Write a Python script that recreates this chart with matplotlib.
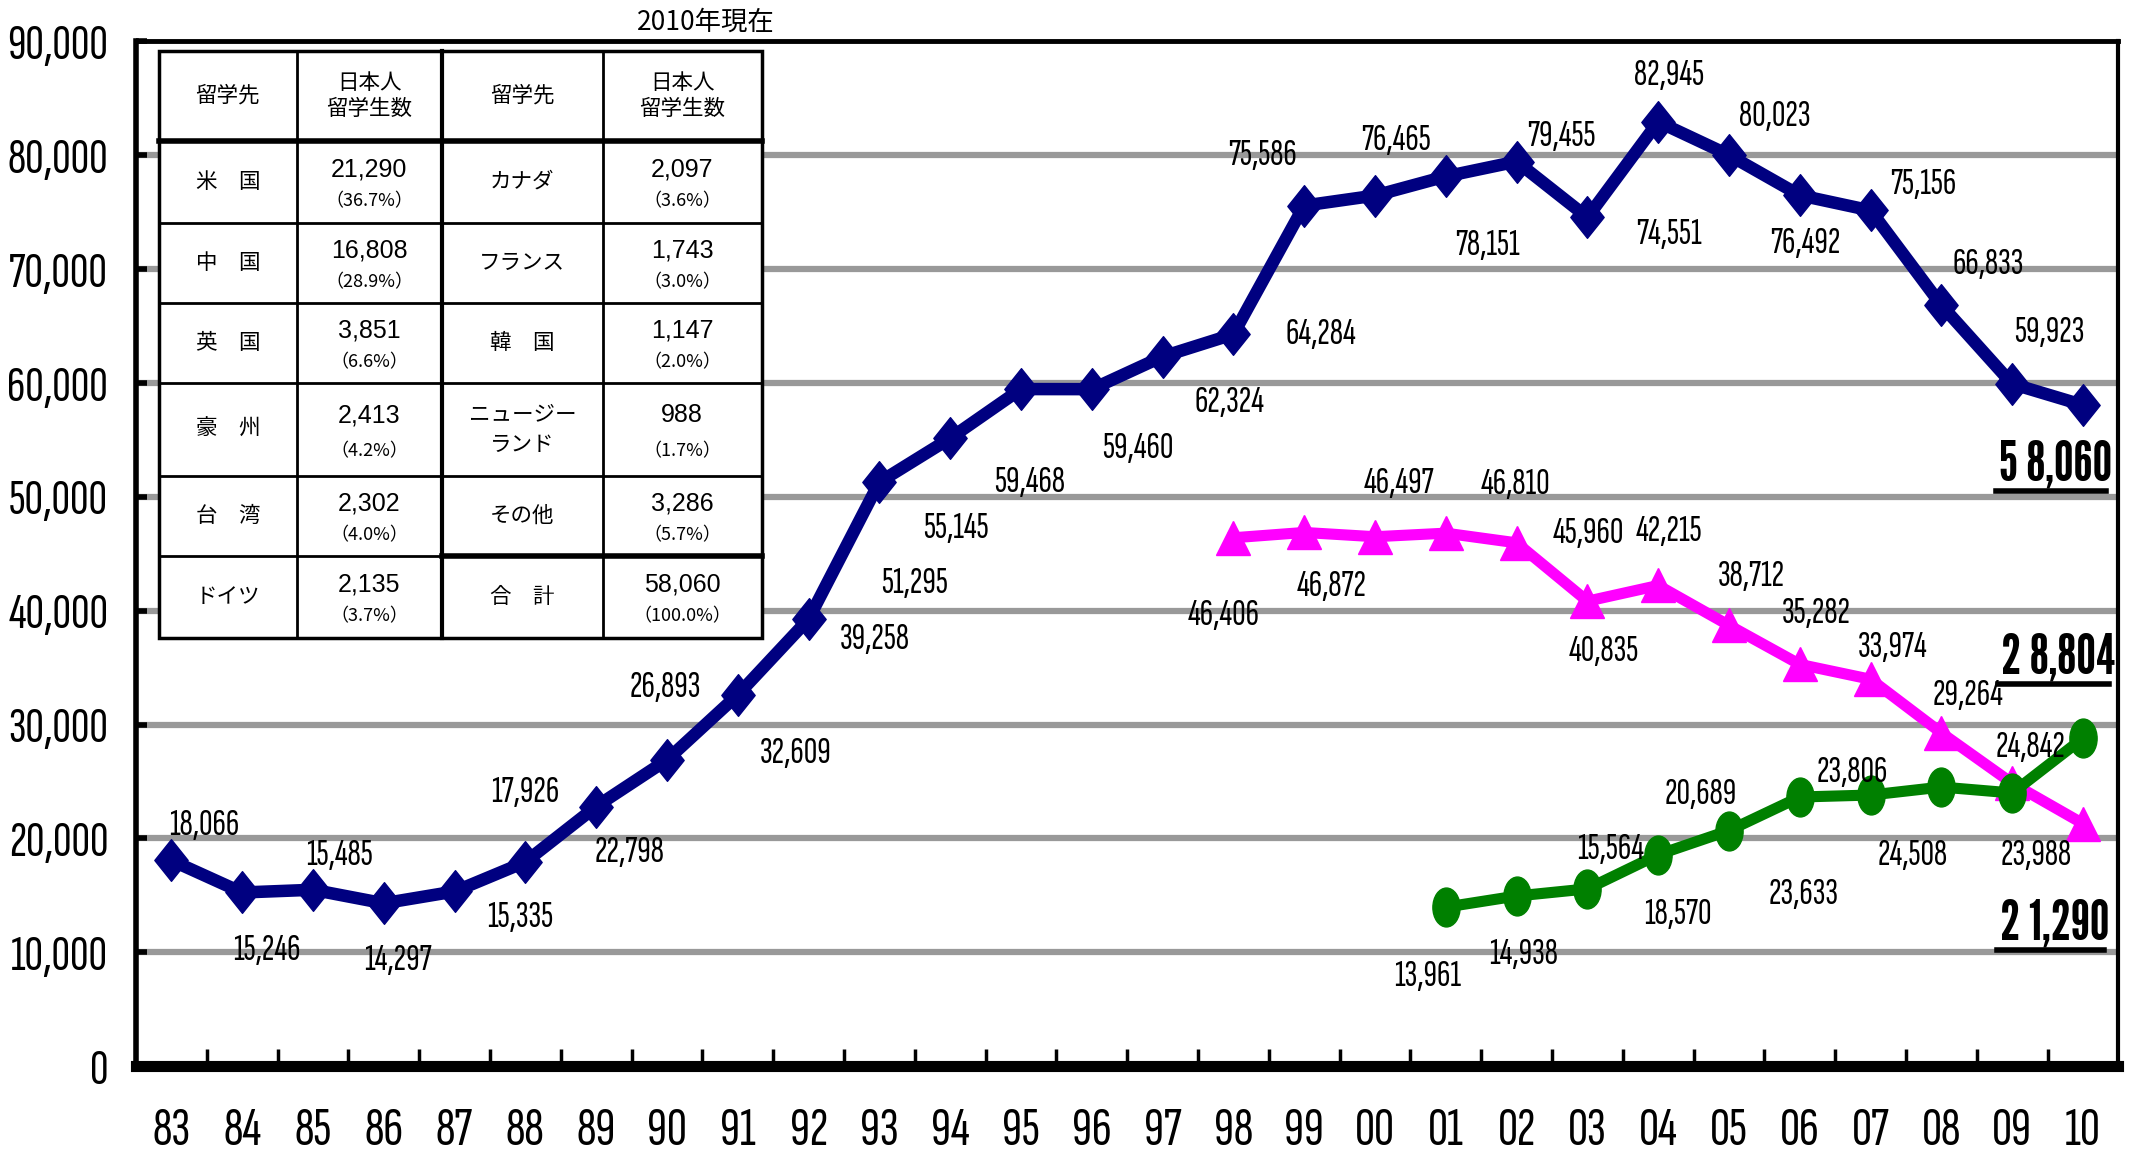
import matplotlib
matplotlib.use('Agg')
import matplotlib.pyplot as plt
from matplotlib.path import Path
from matplotlib.lines import Line2D
from matplotlib.patches import Rectangle
import numpy as np

# ---- data -------------------------------------------------------------
years = ['83', '84', '85', '86', '87', '88', '89', '90', '91', '92', '93', '94', '95', '96',
         '97', '98', '99', '00', '01', '02', '03', '04', '05', '06', '07', '08', '09', '10']

# total (navy), 1983-2010
total = [18066, 15246, 15485, 14297, 15335, 17926, 22798, 26893, 32609, 39258,
         51295, 55145, 59468, 59460, 62324, 64284, 75586, 76465, 78151, 79455,
         74551, 82945, 80023, 76492, 75156, 66833, 59923, 58060]
# magenta, 1998-2010
usa = [46406, 46872, 46497, 46810, 45960, 40835, 42215, 38712, 35282, 33974, 29264, 24842, 21290]
# green, 2001-2010
china = [13961, 14938, 15564, 18570, 20689, 23633, 23806, 24508, 23988, 28804]

# table (2010)
tbl_header = ['留学先', '日本人\n留学生数', '留学先', '日本人\n留学生数']
tbl_left_names = ['米　国', '中　国', '英　国', '豪　州', '台　湾', 'ドイツ']
tbl_left_nums = ['21,290', '16,808', '3,851', '2,413', '2,302', '2,135']
tbl_left_pct = ['（36.7%）', '（28.9%）', '（6.6%）', '（4.2%）', '（4.0%）', '（3.7%）']
tbl_right_names = ['カナダ', 'フランス', '韓　国', 'ニュージー\nランド', 'その他', '合　計']
tbl_right_nums = ['2,097', '1,743', '1,147', '988', '3,286', '58,060']
tbl_right_pct = ['（3.6%）', '（3.0%）', '（2.0%）', '（1.7%）', '（5.7%）', '（100.0%）']

# label offsets (points) for each data label
off_total = [(24, 25), (18, -42), (19, 25), (10, -41), (47, -19), (0, 50), (24, -33),
             (-1, 52), (42, -42), (48, -15), (25, -73), (4, -65), (6, -67), (33, -43),
             (48, -33), (63, 0), (-30, 36), (15, 40), (30, -50), (32, 18), (59, -12),
             (8, 33), (33, 28), (4, -35), (38, 19), (34, 29), (27, 37)]
off_usa = [(-7, -56), (20, -39), (17, 38), (50, 35), (52, 7), (12, -36), (8, 39),
           (16, 35), (12, 37), (16, 23), (19, 27), (13, 26)]
off_china = [(-13, -50), (5, -42), (17, 28), (14, -43), (-20, 26), (3, -70), (-13, 16),
             (-21, -49), (17, -45)]
end_labels = ['5 8,060', '2 1,290', '2 8,804']
end_offs = [(-20, -43), (-20, -72), (-18, 58)]

NARROW = ['Sofia Sans Extra Condensed', 'Liberation Sans', 'DejaVu Sans']
HEAVY = ['League Gothic', 'Liberation Sans', 'DejaVu Sans']
CJK = ['Noto Sans CJK JP', 'DejaVu Sans']
NUM = ['Liberation Sans', 'Noto Sans CJK JP']

NAVY = '#000080'
MAGENTA = '#FF00FF'
GREEN = '#008000'

# ---- markers ----------------------------------------------------------
diamond = Path([(0, 1), (0.8, 0), (0, -1), (-0.8, 0), (0, 1)],
               [Path.MOVETO, Path.LINETO, Path.LINETO, Path.LINETO, Path.CLOSEPOLY])
circ = Path.unit_circle()
ellipse = Path(circ.vertices * np.array([0.7, 1.0]), circ.codes)

# ---- figure -----------------------------------------------------------
fig = plt.figure(figsize=(21.34, 11.59), dpi=100)
ax = fig.add_axes([0.0637, 0.0802, 0.929, 0.884])

x_all = np.arange(len(years))
x_usa = x_all[len(years) - len(usa):]
x_china = x_all[len(years) - len(china):]

for v in range(10000, 90000, 10000):
    ax.axhline(v, color='#999999', lw=4.5, zorder=1)

ax.plot(x_all, total, color=NAVY, lw=9, marker=diamond, ms=30, zorder=5)
ax.plot(x_usa, usa, color=MAGENTA, lw=8, marker='^', ms=24, zorder=5)
ax.plot(x_china, china, color=GREEN, lw=8, marker=ellipse, ms=28, zorder=5)


def put_labels(xs, vals, offs):
    for x, v, (dx, dy) in zip(xs, vals, offs):
        ax.annotate(f'{v:,}', (x, v), xytext=(dx, dy), textcoords='offset points',
                    ha='center', va='center', fontsize=27, family=NARROW, zorder=6)


put_labels(x_all[:-1], total[:-1], off_total)
put_labels(x_usa[:-1], usa[:-1], off_usa)
put_labels(x_china[:-1], china[:-1], off_china)

end_pts = [(x_all[-1], total[-1]), (x_usa[-1], usa[-1]), (x_china[-1], china[-1])]
end_texts = []
for (x, v), s, (dx, dy) in zip(end_pts, end_labels, end_offs):
    t = ax.annotate(s, (x, v), xytext=(dx, dy), textcoords='offset points',
                    ha='center', va='center', fontsize=40, family=HEAVY, zorder=6)
    end_texts.append(t)

# ---- axes -------------------------------------------------------------
ax.set_xlim(-0.5, len(years) - 0.5)
ax.set_ylim(0, 90000)
ax.set_yticks(range(0, 90001, 10000))
ax.set_yticklabels([f'{v:,}' for v in range(0, 90001, 10000)], family=NARROW, fontsize=37)
ax.set_xticks(x_all)
ax.set_xticklabels(years, family=NARROW, fontsize=40)
ax.set_xticks(x_all[:-1] + 0.5, minor=True)
ax.tick_params(axis='x', which='major', length=0, pad=30)
ax.tick_params(axis='x', which='minor', direction='in', length=12, width=2.5)
ax.tick_params(axis='y', direction='in', length=8, width=4, pad=20)
for side, w in [('left', 4), ('bottom', 8), ('top', 3.5), ('right', 3)]:
    ax.spines[side].set_linewidth(w)

# ---- table ------------------------------------------------------------
cx = [0.0117, 0.081, 0.1544, 0.2354, 0.3157]
ry = [0.9907, 0.903, 0.823, 0.745, 0.667, 0.576, 0.498, 0.418]
tr = ax.transAxes
ax.add_patch(Rectangle((cx[0], ry[-1]), cx[-1] - cx[0], ry[0] - ry[-1], transform=tr,
                       facecolor='white', edgecolor='black', lw=2.5, zorder=7))
for i, x in enumerate(cx[1:-1]):
    ax.add_line(Line2D([x, x], [ry[-1], ry[0]], transform=tr, color='black',
                       lw=3 if i == 1 else 2, zorder=8))
for j, y in enumerate(ry[1:-1]):
    lw = 4 if j == 0 else 2
    ax.add_line(Line2D([cx[0], cx[-1]], [y, y], transform=tr, color='black', lw=lw, zorder=8))
ax.add_line(Line2D([cx[2], cx[4]], [ry[6], ry[6]], transform=tr, color='black', lw=4, zorder=8))

for k, s in enumerate(tbl_header):
    ax.text((cx[k] + cx[k + 1]) / 2, (ry[0] + ry[1]) / 2, s, transform=tr, ha='center',
            va='center', fontsize=15.5, family=CJK, linespacing=1.25, zorder=9)

for r in range(6):
    yc = (ry[r + 1] + ry[r + 2]) / 2
    h = ry[r + 1] - ry[r + 2]
    for c, (names, nums, pcts) in enumerate([(tbl_left_names, tbl_left_nums, tbl_left_pct),
                                              (tbl_right_names, tbl_right_nums, tbl_right_pct)]):
        c0 = 2 * c
        ax.text((cx[c0] + cx[c0 + 1]) / 2, yc, names[r], transform=tr, ha='center',
                va='center', fontsize=15.5, family=CJK, linespacing=1.5, zorder=9)
        xm = (cx[c0 + 1] + cx[c0 + 2]) / 2
        ax.text(xm, yc + h * 0.15, nums[r], transform=tr, ha='center', va='center',
                fontsize=18, family=NUM, zorder=9)
        ax.text(xm, yc - h * 0.24, pcts[r], transform=tr, ha='center', va='center',
                fontsize=13, family=CJK, zorder=9)

ax.text(0.2876, 1.0186, '2010年現在', transform=tr, ha='center', va='center',
        fontsize=19, family=CJK)

# ---- underline the end values -----------------------------------------
fig.canvas.draw()
inv = fig.transFigure.inverted()
for t in end_texts:
    bb = t.get_window_extent()
    (x0, y0), (x1, _) = inv.transform([(bb.x0 - 3, bb.y0 - 1), (bb.x1 - 6, bb.y0)])
    fig.add_artist(Line2D([x0, x1], [y0, y0], transform=fig.transFigure, color='black',
                          lw=4, zorder=10))

fig.savefig('out.png', dpi=100)
